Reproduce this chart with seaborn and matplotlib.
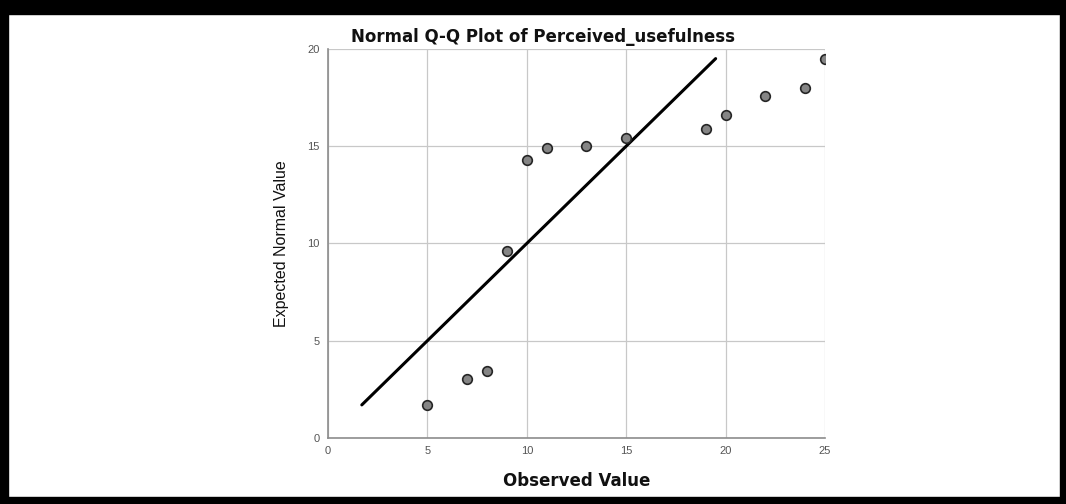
import matplotlib
matplotlib.use("Agg")
import matplotlib.pyplot as plt
import seaborn as sns
import pandas as pd
from matplotlib.patches import Rectangle

observed = [5, 7, 8, 9, 10, 11, 13, 15, 19, 20, 22, 24, 25]
expected = [1.7, 3.05, 3.45, 9.6, 14.3, 14.9, 15.0, 15.4, 15.9, 16.6, 17.6, 18.0, 19.5]
line_x = [1.7, 19.5]
line_y = [1.7, 19.5]
x_ticks = [0, 5, 10, 15, 20, 25]
y_ticks = [0, 5, 10, 15, 20]

df = pd.DataFrame({"Observed Value": observed, "Expected Normal Value": expected})
ref = pd.DataFrame({"x": line_x, "y": line_y})

sns.set_style("white")
plt.rcParams["font.family"] = ["Liberation Sans", "DejaVu Sans"]

fig = plt.figure(figsize=(10.66, 5.04), dpi=100)
ax = fig.add_axes([0.3077, 0.131, 0.4662, 0.772])

ax.set_xlim(0, 25)
ax.set_ylim(0, 20)
ax.set_xticks(x_ticks)
ax.set_yticks(y_ticks)
ax.grid(True, color="#c8c8c8", linewidth=0.9)
ax.set_axisbelow(True)

sns.lineplot(data=ref, x="x", y="y", ax=ax, color="black", linewidth=2.2, zorder=3)
sns.scatterplot(data=df, x="Observed Value", y="Expected Normal Value", ax=ax,
                s=48, color="#858585", edgecolor="#262626", linewidth=1.2, zorder=4)

for s in ["top", "right"]:
    ax.spines[s].set_visible(False)
for s in ["left", "bottom"]:
    ax.spines[s].set_color("#8c8c8c")
    ax.spines[s].set_linewidth(1.2)

ax.tick_params(axis="both", length=0, labelsize=8, labelcolor="#555555", pad=6)
ax.set_xlabel("Observed Value", fontsize=12, fontweight="bold",
              family=["DejaVu Sans"], color="#111111", labelpad=11)
ax.set_ylabel("Expected Normal Value", fontsize=11.5, color="#111111", labelpad=13)
fig.text(0.509, 0.927, "Normal Q-Q Plot of Perceived_usefulness", ha="center", va="center",
         fontsize=12, fontweight="bold", family=["DejaVu Sans"], color="#111111")

# black frame
fig.patches.append(Rectangle((0, 1 - 14/504), 1, 14/504, transform=fig.transFigure, color="black", zorder=10))
fig.patches.append(Rectangle((0, 0), 8/1066, 1, transform=fig.transFigure, color="black", zorder=10))
fig.patches.append(Rectangle((1 - 6/1066, 0), 6/1066, 1, transform=fig.transFigure, color="black", zorder=10))
fig.patches.append(Rectangle((0, 0), 1, 7/504, transform=fig.transFigure, color="black", zorder=10))

fig.savefig("out.png", dpi=100)
